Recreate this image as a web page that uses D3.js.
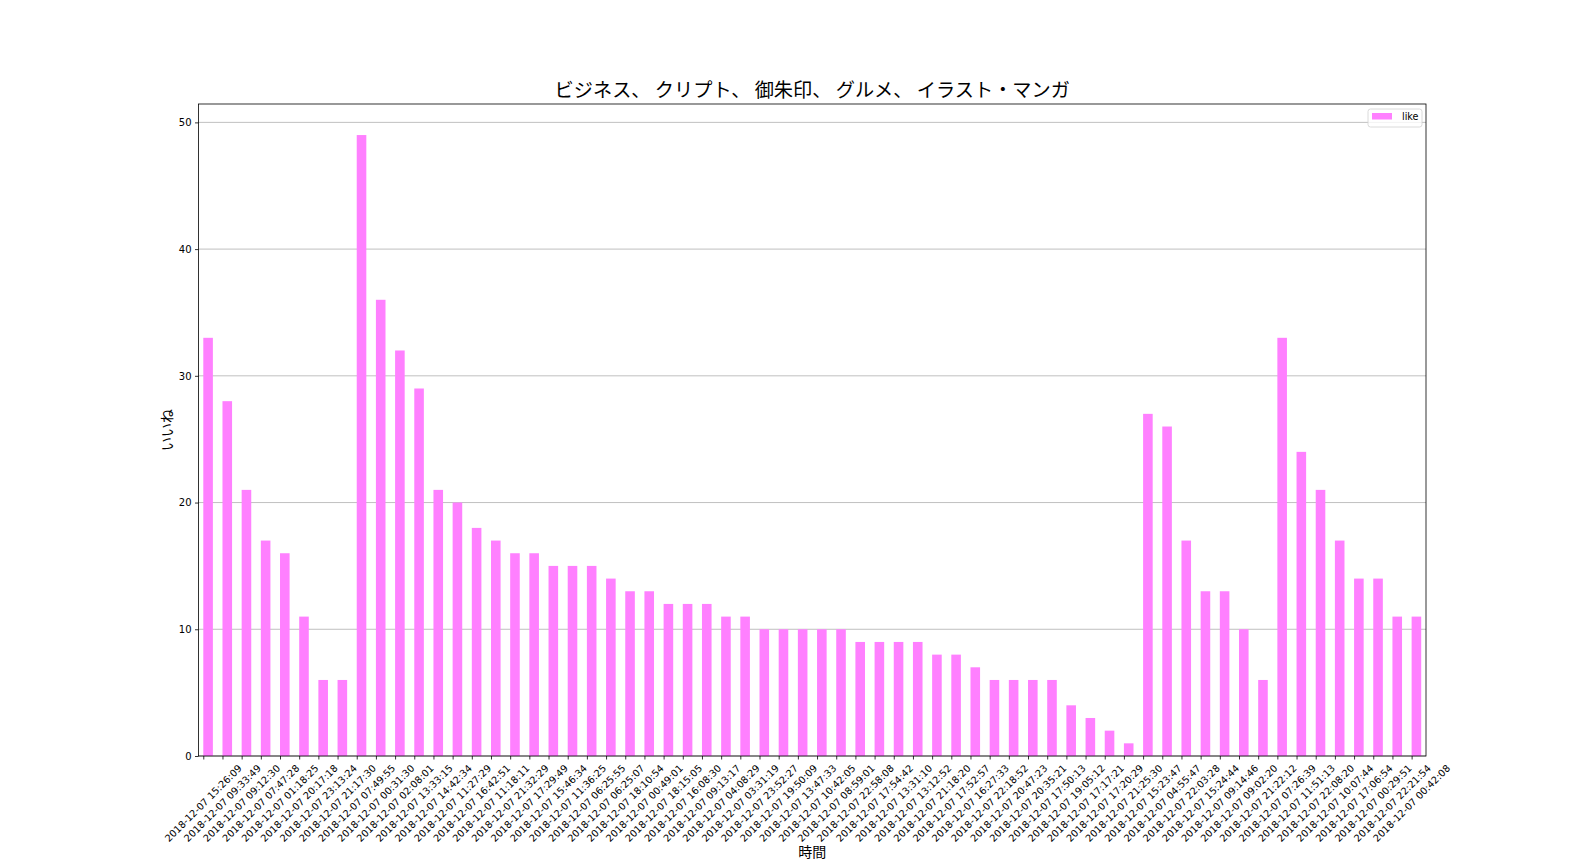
<!DOCTYPE html>
<html><head><meta charset="utf-8">
<script src="https://cdn.jsdelivr.net/npm/d3@7"></script>
<style>body{margin:0;background:#fff}svg{display:block}text{font-family:"Noto Sans CJK JP","DejaVu Sans",sans-serif}</style>
</head><body>
<script>
const title = "ビジネス、 クリプト、 御朱印、 グルメ、 イラスト・マンガ";
const xTitle = "時間";
const yTitle = "いいね";
const seriesName = "like";
const categories = [
"2018-12-07 15:26:09","2018-12-07 09:33:49","2018-12-07 09:12:30","2018-12-07 07:47:28",
"2018-12-07 01:18:25","2018-12-07 20:17:18","2018-12-07 23:13:24","2018-12-07 21:17:30",
"2018-12-07 07:49:55","2018-12-07 00:31:30","2018-12-07 02:08:01","2018-12-07 13:33:15",
"2018-12-07 14:42:34","2018-12-07 11:27:29","2018-12-07 16:42:51","2018-12-07 11:18:11",
"2018-12-07 21:32:29","2018-12-07 17:29:49","2018-12-07 15:46:34","2018-12-07 11:36:25",
"2018-12-07 06:25:55","2018-12-07 06:25:07","2018-12-07 18:10:54","2018-12-07 00:49:01",
"2018-12-07 18:15:05","2018-12-07 16:08:30","2018-12-07 09:13:17","2018-12-07 04:08:29",
"2018-12-07 03:31:19","2018-12-07 23:52:27","2018-12-07 19:50:09","2018-12-07 13:47:33",
"2018-12-07 10:42:05","2018-12-07 08:59:01","2018-12-07 22:58:08","2018-12-07 17:54:42",
"2018-12-07 13:31:10","2018-12-07 13:12:52","2018-12-07 21:18:20","2018-12-07 17:52:57",
"2018-12-07 16:27:33","2018-12-07 22:18:52","2018-12-07 20:47:23","2018-12-07 20:35:21",
"2018-12-07 17:50:13","2018-12-07 19:05:12","2018-12-07 17:17:21","2018-12-07 17:20:29",
"2018-12-07 21:25:30","2018-12-07 15:23:47","2018-12-07 04:55:47","2018-12-07 22:03:28",
"2018-12-07 15:24:44","2018-12-07 09:14:46","2018-12-07 09:02:20","2018-12-07 21:22:12",
"2018-12-07 07:26:39","2018-12-07 11:51:13","2018-12-07 22:08:20","2018-12-07 10:07:44",
"2018-12-07 17:06:54","2018-12-07 00:29:51","2018-12-07 22:21:54","2018-12-07 00:42:08"];
const likes = [33,28,21,17,16,11,6,6,49,36,32,29,21,20,18,17,16,16,15,15,15,14,13,13,12,12,12,11,11,10,10,10,
10,10,9,9,9,9,8,8,7,6,6,6,6,4,3,2,1,27,26,17,13,13,10,6,33,24,21,17,14,14,11,11];
const yTicks = [0,10,20,30,40,50];

const W=1584,H=864, L=198.5, R=1426, T=104, B=756;
const barColor="#ff80ff";
const svg=d3.select("body").append("svg").attr("width",W).attr("height",H);
const n=categories.length;
const x=d3.scaleLinear().domain([-0.25,n-0.25]).range([L,R]);
const y=d3.scaleLinear().domain([0,d3.max(likes)*1.05]).range([B,T]);

// grid
svg.append("g").selectAll("line").data(yTicks).join("line")
 .attr("x1",L).attr("x2",R).attr("y1",d=>y(d)).attr("y2",d=>y(d))
 .attr("stroke","#b0b0b0").attr("stroke-width",0.8);

// bars
svg.append("g").selectAll("rect").data(likes).join("rect")
 .attr("x",(d,i)=>x(i)).attr("width",x(0.5)-x(0))
 .attr("y",d=>y(d)).attr("height",d=>B-y(d)).attr("fill",barColor);

// y axis
const ya=svg.append("g").attr("transform",`translate(${L},0)`)
 .call(d3.axisLeft(y).tickValues(yTicks).tickSize(3.5).tickPadding(3.5).tickFormat(d3.format("d")));
ya.select(".domain").remove();
ya.selectAll("text").attr("font-size",10).attr("fill","#000").style("font-family","'DejaVu Sans'");
ya.selectAll("line").attr("stroke","#000").attr("stroke-width",0.8);

// x axis ticks
const xa=svg.append("g").attr("transform",`translate(0,${B})`)
 .call(d3.axisBottom(x).tickValues(d3.range(n)).tickSize(3.5).tickFormat(""));
xa.select(".domain").remove();
xa.selectAll("line").attr("stroke","#000").attr("stroke-width",0.8);
const lg=svg.append("g");
categories.forEach((c,i)=>{
  const t=lg.append("text").text(c).attr("font-size",9.8).attr("text-anchor","middle")
    .attr("dy","0.35em").style("font-family","'DejaVu Sans'").attr("fill","#000");
  const w=t.node().getComputedTextLength();
  const h=(w+9.8)*Math.SQRT1_2;
  t.attr("transform",`translate(${x(i)},${B+7+h/2}) rotate(-45)`);
});

// frame
svg.append("rect").attr("x",L).attr("y",T).attr("width",R-L).attr("height",B-T)
 .attr("fill","none").attr("stroke","#000").attr("stroke-width",0.8);

// titles
svg.append("text").attr("x",(L+R)/2).attr("y",97).attr("text-anchor","middle")
 .attr("font-size",19.2).text(title);
svg.append("text").attr("x",(L+R)/2).attr("y",857).attr("text-anchor","middle")
 .attr("font-size",14).text(xTitle);
svg.append("text").attr("transform",`translate(172,${(T+B)/2}) rotate(-90)`).attr("text-anchor","middle")
 .attr("font-size",14).text(yTitle);

// legend
const leg=svg.append("g");
leg.append("rect").attr("x",1368).attr("y",109).attr("width",54).attr("height",18).attr("rx",2.5)
 .attr("fill","#fff").attr("fill-opacity",0.8).attr("stroke","#d0d0d0").attr("stroke-width",0.8);
leg.append("rect").attr("x",1372).attr("y",113).attr("width",20).attr("height",6.5).attr("fill",barColor);
leg.append("text").attr("x",1402).attr("y",120).attr("font-size",9.6).style("font-family","'DejaVu Sans'").text(seriesName);
</script>
</body></html>
